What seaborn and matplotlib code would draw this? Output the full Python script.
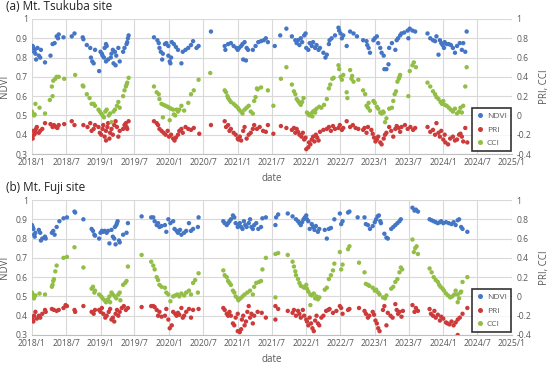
import numpy as np
import pandas as pd
import matplotlib
matplotlib.use("Agg")
import matplotlib.pyplot as plt
from matplotlib.lines import Line2D
import seaborn as sns

# ---------------- data (decimal year, value) ----------------
a_ndvi = [(2018.01,0.86),(2018.02,0.85),(2018.03,0.83),(2018.04,0.84),(2018.05,0.82),(2018.06,0.79),(2018.08,0.85),(2018.10,0.81),(2018.12,0.80),(2018.13,0.84),
(2018.19,0.775),(2018.27,0.81),(2018.30,0.87),(2018.33,0.875),(2018.36,0.91),(2018.38,0.90),(2018.39,0.92),(2018.46,0.905),(2018.58,0.91),(2018.62,0.925),
(2018.74,0.905),(2018.75,0.895),(2018.80,0.865),(2018.85,0.85),(2018.86,0.80),(2018.88,0.78),(2018.90,0.77),(2018.92,0.84),(2018.98,0.73),
(2019.00,0.83),(2019.02,0.82),(2019.03,0.81),(2019.05,0.80),(2019.06,0.85),(2019.08,0.87),(2019.09,0.86),(2019.08,0.78),
(2019.11,0.79),(2019.15,0.80),(2019.19,0.77),(2019.16,0.82),(2019.18,0.84),(2019.21,0.83),(2019.23,0.81),(2019.26,0.85),(2019.22,0.76),(2019.28,0.78),
(2019.33,0.83),(2019.35,0.85),(2019.38,0.87),(2019.39,0.88),(2019.40,0.90),(2019.41,0.915),
(2019.78,0.905),(2019.83,0.89),(2019.85,0.875),(2019.86,0.85),(2019.88,0.83),(2019.91,0.82),(2019.90,0.79),(2019.94,0.87),(2019.96,0.875),(2019.99,0.86),
(2019.99,0.81),(2020.01,0.78),(2020.02,0.77),(2020.03,0.80),(2020.04,0.88),(2020.07,0.87),(2020.10,0.855),(2020.13,0.84),(2020.18,0.77),(2020.20,0.83),
(2020.24,0.84),(2020.28,0.85),(2020.32,0.865),(2020.35,0.885),(2020.40,0.85),(2020.43,0.86),(2020.61,0.935),
(2020.81,0.86),(2020.82,0.84),(2020.86,0.87),(2020.90,0.875),(2020.94,0.86),(2020.98,0.85),
(2021.00,0.84),(2021.02,0.85),(2021.05,0.86),(2021.07,0.87),(2021.10,0.88),(2021.13,0.85),(2021.15,0.84),(2021.08,0.79),(2021.12,0.785),
(2021.22,0.84),(2021.26,0.86),(2021.30,0.88),(2021.34,0.885),(2021.38,0.89),(2021.41,0.90),(2021.44,0.88),
(2021.54,0.86),(2021.62,0.915),(2021.71,0.95),(2021.79,0.91),(2021.84,0.89),
(2021.86,0.875),(2021.88,0.89),(2021.90,0.865),(2021.92,0.90),(2021.94,0.88),(2021.97,0.915),(2021.99,0.925),
(2022.00,0.85),(2022.03,0.84),(2022.05,0.875),(2022.08,0.86),(2022.10,0.88),(2022.13,0.85),(2022.15,0.865),(2022.18,0.84),(2022.20,0.85),
(2022.25,0.825),(2022.28,0.80),(2022.30,0.815),(2022.33,0.87),(2022.34,0.89),(2022.37,0.90),(2022.42,0.915),(2022.47,0.955),(2022.48,0.94),
(2022.50,0.925),(2022.52,0.90),(2022.54,0.915),(2022.59,0.86),(2022.64,0.935),(2022.69,0.925),(2022.74,0.91),
(2022.83,0.89),(2022.88,0.885),(2022.89,0.865),(2022.91,0.85),(2022.93,0.825),
(2022.98,0.89),(2023.00,0.90),(2023.03,0.91),(2023.05,0.875),(2023.08,0.85),(2023.10,0.825),(2023.13,0.81),(2023.14,0.74),(2023.17,0.74),(2023.20,0.765),
(2023.21,0.85),(2023.25,0.875),(2023.30,0.84),(2023.32,0.89),(2023.34,0.90),(2023.37,0.915),(2023.39,0.925),(2023.43,0.93),(2023.48,0.94),(2023.49,0.90),
(2023.51,0.95),(2023.55,0.94),(2023.59,0.935),
(2023.77,0.925),(2023.81,0.90),(2023.85,0.89),(2023.88,0.885),(2023.90,0.91),(2023.93,0.815),(2023.95,0.89),(2023.97,0.875),(2023.99,0.865),(2024.01,0.85),(2024.02,0.88),
(2024.05,0.87),(2024.08,0.87),(2024.11,0.865),(2024.14,0.85),(2024.17,0.825),(2024.20,0.86),(2024.24,0.875),(2024.27,0.84),(2024.29,0.875),(2024.32,0.83),(2024.34,0.935)]

a_cci = [(2018.00,0.04),(2018.01,0.02),(2018.03,0.0),(2018.04,0.01),(2018.05,0.12),(2018.11,0.08),(2018.19,0.02),(2018.26,0.16),(2018.29,0.30),(2018.30,0.20),
(2018.31,0.36),(2018.34,0.38),(2018.36,0.40),(2018.39,0.40),(2018.47,0.38),(2018.63,0.42),(2018.74,0.31),(2018.75,0.30),(2018.80,0.22),(2018.84,0.18),
(2018.87,0.12),(2018.90,0.12),(2018.92,0.10),
(2018.97,0.06),(2018.99,0.04),(2019.01,0.02),(2019.03,0.0),(2019.05,-0.02),(2019.07,0.04),(2019.09,0.06),(2019.12,0.0),(2019.14,0.02),(2019.16,-0.07),
(2019.19,0.04),(2019.21,0.06),(2019.24,0.10),(2019.26,0.14),(2019.28,0.08),
(2019.33,0.20),(2019.35,0.26),(2019.37,0.30),(2019.38,0.32),(2019.39,0.34),(2019.41,0.39),
(2019.78,0.30),(2019.82,0.24),(2019.85,0.22),(2019.86,0.17),
(2019.89,0.12),(2019.92,0.11),(2019.95,0.10),(2019.98,0.09),(2020.00,0.08),(2020.03,0.07),(2020.06,0.06),(2019.91,-0.02),(2020.01,-0.05),
(2020.07,0.01),(2020.09,0.0),(2020.11,0.06),(2020.13,0.04),(2020.15,0.06),(2020.18,0.10),(2020.22,0.05),(2020.28,0.13),(2020.32,0.22),(2020.36,0.26),(2020.43,0.37),(2020.60,0.44),
(2020.81,0.26),(2020.83,0.24),(2020.85,0.20),(2020.86,0.18),(2020.88,0.16),(2020.90,0.14),(2020.94,0.12),(2020.97,0.10),(2021.00,0.08),
(2021.02,0.06),(2021.05,0.04),(2021.07,0.02),(2021.10,0.06),(2021.13,0.08),(2021.16,0.10),(2021.19,0.04),(2021.22,0.02),
(2021.24,0.15),(2021.26,0.19),(2021.28,0.28),(2021.29,0.27),(2021.34,0.29),(2021.44,0.26),
(2021.52,0.10),(2021.63,0.38),(2021.71,0.50),(2021.79,0.32),(2021.82,0.25),(2021.84,0.22),
(2021.86,0.17),(2021.88,0.15),(2021.90,0.13),(2021.92,0.11),(2021.94,0.14),(2021.96,0.18),
(2022.01,0.03),(2022.03,0.01),(2022.05,0.0),(2022.07,0.02),(2022.09,-0.01),(2022.10,0.04),(2022.12,0.05),(2022.13,0.03),
(2022.15,0.07),(2022.19,0.09),(2022.22,0.08),(2022.26,0.11),(2022.30,0.17),
(2022.33,0.28),(2022.35,0.32),(2022.38,0.38),(2022.40,0.39),(2022.47,0.52),(2022.48,0.48),(2022.50,0.40),(2022.52,0.37),(2022.54,0.42),(2022.59,0.24),(2022.60,0.18),
(2022.64,0.47),(2022.66,0.38),(2022.67,0.41),(2022.69,0.35),(2022.76,0.37),(2022.83,0.26),(2022.86,0.22),
(2022.88,0.10),(2022.90,0.08),(2022.91,0.13),(2022.93,0.05),(2022.98,0.15),(2023.00,0.13),(2023.03,0.09),(2023.05,0.07),
(2023.08,0.03),(2023.10,0.02),(2023.12,0.04),(2023.13,0.03),(2023.15,-0.07),(2023.17,-0.03),(2023.21,0.07),(2023.25,0.08),
(2023.27,0.15),(2023.29,0.22),(2023.31,0.25),(2023.33,0.35),(2023.35,0.38),(2023.36,0.40),(2023.37,0.42),(2023.49,0.20),
(2023.51,0.46),(2023.55,0.52),(2023.57,0.55),(2023.60,0.50),
(2023.77,0.34),(2023.81,0.30),(2023.85,0.25),(2023.88,0.22),(2023.90,0.19),(2023.93,0.17),(2023.96,0.14),(2023.98,0.12),(2024.00,0.15),(2024.02,0.11),
(2024.05,0.10),(2024.08,0.08),(2024.11,0.06),(2024.14,0.04),(2024.17,0.07),(2024.20,0.02),(2024.23,0.04),(2024.25,0.08),(2024.27,0.03),(2024.29,0.10),(2024.32,0.30),(2024.34,0.50)]

a_pri = [(2018.00,-0.22),(2018.01,-0.24),(2018.02,-0.16),(2018.03,-0.20),(2018.05,-0.18),(2018.06,-0.14),(2018.07,-0.12),(2018.10,-0.18),(2018.12,-0.16),(2018.15,-0.14),
(2018.19,-0.08),(2018.27,-0.09),(2018.30,-0.12),(2018.32,-0.10),(2018.35,-0.12),(2018.37,-0.13),(2018.39,-0.10),(2018.47,-0.09),(2018.58,-0.06),(2018.62,-0.10),
(2018.75,-0.10),(2018.81,-0.12),(2018.85,-0.08),(2018.87,-0.16),(2018.90,-0.14),(2018.92,-0.10),
(2018.97,-0.12),(2018.99,-0.18),(2019.01,-0.20),(2019.03,-0.14),(2019.04,-0.10),(2019.06,-0.22),(2019.08,-0.16),(2019.10,-0.12),(2019.11,-0.08),(2019.13,-0.24),(2019.14,-0.18),(2019.08,-0.26),
(2019.16,-0.14),(2019.18,-0.20),(2019.20,-0.10),(2019.22,-0.06),(2019.24,-0.12),(2019.26,-0.22),(2019.28,-0.16),
(2019.33,-0.14),(2019.35,-0.10),(2019.37,-0.08),(2019.38,-0.12),(2019.39,-0.14),(2019.41,-0.06),
(2019.78,-0.06),(2019.82,-0.08),(2019.84,-0.10),(2019.86,-0.14),
(2019.89,-0.16),(2019.92,-0.18),(2019.95,-0.20),(2019.98,-0.16),(2020.00,-0.22),(2020.03,-0.20),(2020.06,-0.24),
(2020.08,-0.26),(2020.10,-0.23),(2020.13,-0.20),(2020.15,-0.16),(2020.18,-0.14),(2020.20,-0.18),(2020.24,-0.12),(2020.28,-0.14),(2020.32,-0.15),(2020.36,-0.13),(2020.44,-0.19),(2020.61,-0.10),
(2020.81,-0.06),(2020.83,-0.12),(2020.86,-0.10),(2020.88,-0.16),(2020.90,-0.14),(2020.94,-0.18),(2020.97,-0.20),(2021.00,-0.24),
(2021.01,-0.25),(2021.03,-0.22),(2021.05,-0.26),(2021.08,-0.16),(2021.10,-0.12),(2021.13,-0.24),(2021.16,-0.20),(2021.19,-0.18),(2021.22,-0.14),
(2021.24,-0.10),(2021.28,-0.14),(2021.32,-0.12),(2021.37,-0.16),(2021.41,-0.17),(2021.44,-0.10),
(2021.52,-0.19),(2021.63,-0.11),(2021.71,-0.13),(2021.79,-0.15),(2021.82,-0.13),(2021.84,-0.18),
(2021.86,-0.14),(2021.88,-0.17),(2021.90,-0.20),(2021.93,-0.22),(2021.95,-0.18),(2021.97,-0.25),(2021.99,-0.23),
(2022.00,-0.35),(2022.03,-0.33),(2022.04,-0.28),(2022.06,-0.30),(2022.08,-0.25),(2022.10,-0.22),(2022.12,-0.27),(2022.14,-0.20),(2022.16,-0.23),(2022.18,-0.26),
(2022.20,-0.17),(2022.25,-0.15),(2022.30,-0.14),(2022.33,-0.12),(2022.36,-0.16),(2022.39,-0.11),(2022.42,-0.14),
(2022.47,-0.13),(2022.49,-0.10),(2022.52,-0.15),(2022.54,-0.13),(2022.59,-0.06),(2022.64,-0.12),(2022.68,-0.10),(2022.72,-0.13),(2022.76,-0.14),
(2022.83,-0.15),(2022.85,-0.13),(2022.88,-0.18),(2022.90,-0.12),
(2022.95,-0.15),(2022.97,-0.19),(2022.99,-0.23),(2023.01,-0.27),(2023.03,-0.25),(2023.05,-0.22),(2023.08,-0.28),(2023.10,-0.30),(2023.13,-0.24),(2023.15,-0.20),
(2023.17,-0.18),(2023.21,-0.12),(2023.24,-0.16),(2023.27,-0.22),(2023.30,-0.14),(2023.32,-0.11),(2023.35,-0.13),(2023.37,-0.17),(2023.39,-0.12),
(2023.44,-0.10),(2023.48,-0.14),(2023.52,-0.12),(2023.56,-0.15),(2023.59,-0.13),
(2023.77,-0.12),(2023.81,-0.17),(2023.85,-0.15),(2023.88,-0.20),(2023.90,-0.08),(2023.93,-0.18),(2023.95,-0.22),(2023.97,-0.16),(2024.00,-0.25),(2024.02,-0.20),
(2024.03,-0.28),(2024.07,-0.30),(2024.10,-0.24),(2024.14,-0.22),(2024.17,-0.26),(2024.20,-0.25),(2024.23,-0.20),(2024.25,-0.19),(2024.27,-0.22),(2024.29,-0.27),(2024.32,-0.13),(2024.35,-0.28)]

b_ndvi = [(2018.00,0.87),(2018.01,0.86),(2018.02,0.85),(2018.03,0.82),(2018.04,0.81),(2018.05,0.83),(2018.10,0.845),(2018.12,0.83),(2018.13,0.79),(2018.15,0.80),
(2018.19,0.81),(2018.20,0.80),(2018.29,0.83),(2018.31,0.84),(2018.33,0.82),(2018.36,0.86),(2018.40,0.89),(2018.46,0.905),(2018.51,0.91),(2018.62,0.94),(2018.63,0.935),(2018.75,0.90),
(2018.87,0.85),(2018.89,0.84),(2018.91,0.82),(2018.92,0.815),
(2018.98,0.80),(2019.00,0.83),(2019.02,0.84),(2019.04,0.835),(2019.06,0.84),(2019.09,0.83),(2019.11,0.84),(2019.13,0.775),
(2019.16,0.845),(2019.18,0.81),(2019.20,0.80),(2019.21,0.86),(2019.23,0.87),(2019.22,0.77),(2019.24,0.88),(2019.25,0.89),(2019.27,0.79),(2019.28,0.78),
(2019.33,0.82),(2019.38,0.83),(2019.40,0.88),(2019.60,0.915),
(2019.74,0.91),(2019.77,0.91),(2019.79,0.89),(2019.82,0.87),(2019.84,0.88),(2019.86,0.86),(2019.89,0.865),(2019.94,0.87),
(2019.96,0.835),(2019.99,0.90),(2020.02,0.88),
(2020.06,0.89),(2020.08,0.85),(2020.11,0.84),(2020.13,0.83),(2020.16,0.845),(2020.18,0.82),(2020.22,0.83),(2020.25,0.84),(2020.29,0.88),(2020.32,0.84),(2020.35,0.85),(2020.42,0.86),(2020.43,0.91),
(2020.79,0.89),(2020.81,0.88),(2020.84,0.87),(2020.86,0.88),(2020.88,0.89),(2020.90,0.90),(2020.93,0.92),(2020.95,0.91),(2020.97,0.88),(2021.00,0.86),
(2021.01,0.87),(2021.03,0.88),(2021.05,0.86),(2021.07,0.85),(2021.09,0.89),(2021.11,0.87),(2021.13,0.86),(2021.16,0.88),(2021.18,0.90),(2021.20,0.86),(2021.22,0.85),
(2021.24,0.87),(2021.27,0.88),(2021.30,0.85),(2021.34,0.86),(2021.36,0.905),(2021.41,0.91),
(2021.55,0.87),(2021.56,0.91),(2021.59,0.925),(2021.73,0.93),(2021.80,0.915),(2021.85,0.90),
(2021.88,0.89),(2021.90,0.88),(2021.92,0.87),(2021.94,0.885),(2021.96,0.90),(2021.98,0.91),(2022.00,0.92),
(2022.01,0.90),(2022.03,0.89),(2022.05,0.85),(2022.08,0.875),(2022.10,0.86),(2022.12,0.845),(2022.14,0.865),(2022.17,0.835),(2022.19,0.85),
(2022.27,0.845),(2022.30,0.80),(2022.33,0.85),(2022.36,0.855),(2022.41,0.90),(2022.49,0.93),(2022.51,0.875),(2022.53,0.89),(2022.61,0.935),(2022.63,0.94),
(2022.75,0.91),(2022.85,0.91),(2022.87,0.875),(2022.90,0.87),(2022.93,0.85),(2022.97,0.865),
(2023.00,0.885),(2023.02,0.90),(2023.04,0.915),(2023.06,0.92),(2023.08,0.89),(2023.09,0.88),
(2023.14,0.825),(2023.17,0.805),(2023.19,0.80),
(2023.24,0.85),(2023.27,0.86),(2023.30,0.87),(2023.33,0.88),(2023.36,0.89),(2023.38,0.90),
(2023.55,0.96),(2023.58,0.945),(2023.60,0.95),(2023.63,0.94),
(2023.80,0.90),(2023.83,0.895),(2023.86,0.89),(2023.89,0.885),(2023.92,0.88),(2023.95,0.885),
(2023.97,0.89),(2024.00,0.88),(2024.04,0.885),(2024.08,0.88),(2024.12,0.875),(2024.15,0.885),(2024.18,0.87),
(2024.21,0.895),(2024.23,0.90),(2024.26,0.86),(2024.28,0.85),(2024.35,0.835)]

b_cci = [(2018.00,0.04),(2018.01,0.02),(2018.02,0.0),(2018.03,-0.02),(2018.05,0.01),(2018.11,0.03),(2018.19,0.02),
(2018.29,0.10),(2018.30,0.12),(2018.31,0.16),(2018.32,0.18),(2018.34,0.26),(2018.36,0.32),(2018.46,0.40),(2018.51,0.41),(2018.62,0.51),(2018.75,0.30),
(2018.87,0.08),(2018.89,0.10),(2018.91,0.04),(2018.92,0.06),
(2018.98,0.02),(2019.01,0.0),(2019.03,-0.02),(2019.06,-0.04),(2019.08,-0.06),(2019.11,-0.03),(2019.13,0.0),(2019.14,-0.06),
(2019.16,0.04),(2019.18,0.02),(2019.21,0.0),(2019.23,-0.02),(2019.26,0.02),(2019.28,0.04),(2019.29,-0.04),
(2019.33,0.12),(2019.36,0.14),(2019.38,0.16),(2019.40,0.31),(2019.60,0.43),
(2019.74,0.36),(2019.77,0.32),(2019.79,0.28),(2019.82,0.20),(2019.84,0.17),(2019.86,0.12),(2019.89,0.10),(2019.94,0.09),
(2019.96,0.04),(2019.99,0.02),(2020.02,-0.05),
(2020.06,0.0),(2020.09,0.01),(2020.12,0.02),(2020.15,0.0),(2020.18,0.03),(2020.22,0.01),(2020.25,0.04),(2020.29,0.06),(2020.32,0.02),(2020.35,0.14),(2020.38,0.17),(2020.42,0.04),(2020.43,0.24),
(2020.79,0.27),(2020.81,0.22),(2020.84,0.20),(2020.86,0.16),(2020.88,0.14),(2020.90,0.12),(2020.93,0.06),(2020.95,0.04),(2020.97,0.0),(2021.00,-0.02),
(2021.01,-0.04),(2021.04,-0.02),(2021.07,0.0),(2021.10,0.02),(2021.14,0.04),(2021.18,0.06),(2021.22,0.02),
(2021.24,0.10),(2021.27,0.14),(2021.31,0.15),(2021.34,0.16),(2021.36,0.28),(2021.41,0.40),
(2021.55,0.44),(2021.55,-0.01),(2021.59,0.45),(2021.73,0.43),
(2021.80,0.36),(2021.82,0.31),(2021.84,0.26),(2021.85,0.22),
(2021.88,0.18),(2021.90,0.14),(2021.92,0.11),(2021.95,0.10),(2021.97,0.09),(2022.00,0.12),
(2022.01,0.08),(2022.03,0.05),(2022.06,0.02),(2022.06,-0.09),(2022.08,0.01),(2022.11,0.03),(2022.13,-0.02),(2022.15,0.0),(2022.17,-0.03),(2022.19,-0.01),
(2022.27,0.07),(2022.30,0.09),(2022.33,0.18),(2022.36,0.22),(2022.39,0.27),(2022.41,0.34),
(2022.49,0.46),(2022.51,0.28),(2022.53,0.33),(2022.61,0.49),(2022.63,0.52),(2022.77,0.35),
(2022.85,0.25),(2022.87,0.13),(2022.90,0.12),(2022.92,0.11),
(2022.97,0.09),(2023.00,0.06),(2023.02,0.07),(2023.05,0.04),(2023.07,0.02),
(2023.12,-0.01),(2023.15,-0.02),(2023.17,0.01),
(2023.24,0.08),(2023.27,0.10),(2023.30,0.15),(2023.33,0.18),(2023.36,0.25),(2023.38,0.30),(2023.40,0.28),
(2023.55,0.59),(2023.57,0.46),(2023.59,0.50),(2023.61,0.52),(2023.63,0.44),
(2023.80,0.29),(2023.83,0.25),(2023.86,0.20),(2023.89,0.17),
(2023.92,0.15),(2023.94,0.12),(2023.96,0.10),(2023.99,0.08),(2024.01,0.06),
(2024.04,0.03),(2024.07,0.01),(2024.10,-0.01),(2024.13,0.0),(2024.16,0.02),
(2024.18,0.06),(2024.21,0.02),(2024.21,-0.06),(2024.23,-0.02),(2024.25,0.04),(2024.26,0.05),(2024.28,0.15),(2024.35,0.20)]

b_pri = [(2018.00,-0.22),(2018.01,-0.24),(2018.02,-0.26),(2018.03,-0.20),(2018.05,-0.16),(2018.07,-0.23),(2018.10,-0.20),(2018.12,-0.22),(2018.15,-0.18),
(2018.19,-0.14),(2018.20,-0.16),(2018.29,-0.13),(2018.32,-0.14),(2018.36,-0.15),(2018.39,-0.14),(2018.46,-0.12),(2018.49,-0.09),(2018.51,-0.10),(2018.62,-0.14),(2018.63,-0.16),(2018.75,-0.10),
(2018.87,-0.16),(2018.90,-0.18),(2018.92,-0.14),
(2018.98,-0.14),(2019.00,-0.16),(2019.02,-0.12),(2019.04,-0.18),(2019.07,-0.22),(2019.09,-0.20),(2019.12,-0.16),(2019.14,-0.13),
(2019.16,-0.24),(2019.18,-0.22),(2019.20,-0.26),(2019.22,-0.18),(2019.24,-0.14),(2019.26,-0.20),(2019.28,-0.16),
(2019.31,-0.12),(2019.34,-0.10),(2019.37,-0.14),(2019.40,-0.12),(2019.60,-0.11),
(2019.74,-0.10),(2019.77,-0.10),(2019.79,-0.11),(2019.82,-0.14),(2019.84,-0.20),(2019.86,-0.16),(2019.89,-0.21),(2019.94,-0.20),
(2019.96,-0.13),(2019.99,-0.24),(2020.01,-0.33),(2020.04,-0.30),(2020.06,-0.16),(2020.09,-0.18),(2020.11,-0.20),
(2020.13,-0.17),(2020.15,-0.19),(2020.18,-0.12),(2020.20,-0.22),(2020.22,-0.20),(2020.25,-0.16),(2020.29,-0.13),(2020.32,-0.22),(2020.35,-0.14),(2020.43,-0.13),
(2020.79,-0.12),(2020.81,-0.14),(2020.84,-0.18),(2020.86,-0.20),(2020.88,-0.16),(2020.90,-0.20),(2020.93,-0.28),(2020.95,-0.30),(2020.97,-0.22),(2021.00,-0.18),
(2021.00,-0.36),(2021.03,-0.37),(2021.05,-0.34),
(2021.06,-0.24),(2021.08,-0.20),(2021.10,-0.30),(2021.12,-0.26),(2021.14,-0.16),(2021.16,-0.10),(2021.18,-0.22),(2021.20,-0.18),(2021.22,-0.28),
(2021.24,-0.20),(2021.29,-0.16),(2021.35,-0.17),(2021.41,-0.22),
(2021.55,-0.10),(2021.55,-0.24),(2021.59,-0.13),(2021.73,-0.15),
(2021.80,-0.17),(2021.82,-0.14),(2021.85,-0.20),
(2021.88,-0.15),(2021.90,-0.18),(2021.92,-0.22),(2021.95,-0.14),(2021.97,-0.20),(2022.00,-0.24),
(2022.01,-0.26),(2022.03,-0.30),(2022.05,-0.22),(2022.07,-0.28),(2022.09,-0.33),(2022.11,-0.36),(2022.13,-0.25),(2022.15,-0.20),(2022.17,-0.28),(2022.19,-0.30),
(2022.22,-0.22),(2022.25,-0.20),(2022.29,-0.15),(2022.32,-0.14),(2022.34,-0.13),(2022.39,-0.17),(2022.44,-0.15),
(2022.49,-0.10),(2022.51,-0.12),(2022.53,-0.18),(2022.61,-0.14),(2022.63,-0.13),(2022.77,-0.12),
(2022.85,-0.15),(2022.87,-0.18),(2022.90,-0.22),(2022.92,-0.20),
(2022.97,-0.16),(2022.99,-0.19),(2023.01,-0.25),(2023.03,-0.28),(2023.05,-0.33),(2023.07,-0.36),
(2023.12,-0.14),(2023.14,-0.10),(2023.17,-0.30),
(2023.19,-0.17),(2023.23,-0.20),(2023.26,-0.22),
(2023.30,-0.08),(2023.32,-0.14),(2023.34,-0.18),(2023.36,-0.16),(2023.39,-0.21),(2023.41,-0.15),
(2023.55,-0.09),(2023.58,-0.16),(2023.60,-0.12),(2023.63,-0.15),
(2023.80,-0.13),(2023.82,-0.18),(2023.85,-0.20),(2023.87,-0.15),(2023.89,-0.22),
(2023.92,-0.19),(2023.95,-0.25),(2023.97,-0.21),(2024.00,-0.23),(2024.04,-0.27),
(2024.06,-0.28),(2024.09,-0.29),(2024.12,-0.26),(2024.15,-0.30),(2024.18,-0.27),
(2024.21,-0.24),(2024.21,-0.40),(2024.24,-0.22),(2024.28,-0.18),(2024.35,-0.12)]

panel_titles = ["(a) Mt. Tsukuba site", "(b) Mt. Fuji site"]
series_names = ["NDVI", "PRI", "CCI"]
colors = {"NDVI": "#4576C6", "PRI": "#CC3A3A", "CCI": "#92BE45"}
left_ticks = [0.3, 0.4, 0.5, 0.6, 0.7, 0.8, 0.9, 1.0]
right_ticks = [-0.4, -0.2, 0.0, 0.2, 0.4, 0.6, 0.8, 1.0]


def to_dt(y):
    yi = int(np.floor(y))
    s = pd.Timestamp(yi, 1, 1)
    e = pd.Timestamp(yi + 1, 1, 1)
    return s + (e - s) * (y - yi)


def frame(pairs):
    return pd.DataFrame({"date": [to_dt(t) for t, _ in pairs], "value": [v for _, v in pairs]})


sns.set_theme(style="white")
plt.rcParams["font.family"] = ["Open Sans", "DejaVu Sans"]

fig = plt.figure(figsize=(5.5, 3.65), dpi=100)
W, H = 550, 365
gray = "#595959"
grid_c = "#D9D9D9"

xticks = pd.date_range("2018-01-01", "2025-01-01", freq="6MS")
xlabels = [f"{d.year}/{d.month}" for d in xticks]

panels = [(a_ndvi, a_pri, a_cci, 19), (b_ndvi, b_pri, b_cci, 200)]
for i, (nd, pr, cc, top) in enumerate(panels):
    left, right, h = 32, 512, 135
    ax = fig.add_axes([left / W, 1 - (top + h) / H, (right - left) / W, h / H])
    ax2 = ax.twinx()
    sns.scatterplot(data=frame(nd), x="date", y="value", ax=ax, color=colors["NDVI"],
                    s=10, edgecolor="none", legend=False, zorder=3)
    sns.scatterplot(data=frame(pr), x="date", y="value", ax=ax2, color=colors["PRI"],
                    s=10, edgecolor="none", legend=False, zorder=3)
    sns.scatterplot(data=frame(cc), x="date", y="value", ax=ax2, color=colors["CCI"],
                    s=10, edgecolor="none", legend=False, zorder=3)
    ax.set_xlim(pd.Timestamp("2018-01-01"), pd.Timestamp("2025-01-01"))
    ax.set_ylim(0.3, 1.0)
    ax2.set_ylim(-0.4, 1.0)
    ax.set_xticks(xticks)
    ax.set_xticklabels(xlabels)
    ax.set_yticks(left_ticks)
    ax.set_yticklabels([f"{t:g}" for t in left_ticks])
    ax2.set_yticks(right_ticks)
    ax2.set_yticklabels([f"{t:g}" for t in right_ticks])
    ax.grid(True, color=grid_c, linewidth=0.8)
    ax.set_axisbelow(True)
    for a in (ax, ax2):
        for sp in a.spines.values():
            sp.set_visible(False)
        a.tick_params(length=0, labelsize=6.2, labelcolor=gray, pad=3)
    ax.spines["bottom"].set_visible(True)
    ax.spines["bottom"].set_color("#BFBFBF")
    ax.spines["bottom"].set_linewidth(0.8)
    ax.set_xlabel("date", fontsize=7, color=gray, labelpad=4)
    ax.set_ylabel("NDVI", fontsize=7, color=gray, labelpad=4)
    ax2.set_ylabel("PRI, CCI", fontsize=7, color=gray, labelpad=6)
    fig.text(6 / W, 1 - (top - 12) / H, panel_titles[i], fontsize=8.5, color="#222222",
             ha="left", va="center")
    handles = [Line2D([], [], marker="o", linestyle="", markersize=3.6,
                      markerfacecolor=colors[n], markeredgecolor="none") for n in series_names]
    leg = ax2.legend(handles, series_names, loc="lower right", bbox_to_anchor=(0.998, 0.022),
                     fontsize=6.0, frameon=True, fancybox=False, handletextpad=0.3,
                     borderpad=0.5, labelspacing=0.65, handlelength=1.0, borderaxespad=0)
    leg.get_frame().set_edgecolor("black")
    leg.get_frame().set_linewidth(1.2)
    for t in leg.get_texts():
        t.set_color(gray)

fig.savefig("out.png", dpi=100)
